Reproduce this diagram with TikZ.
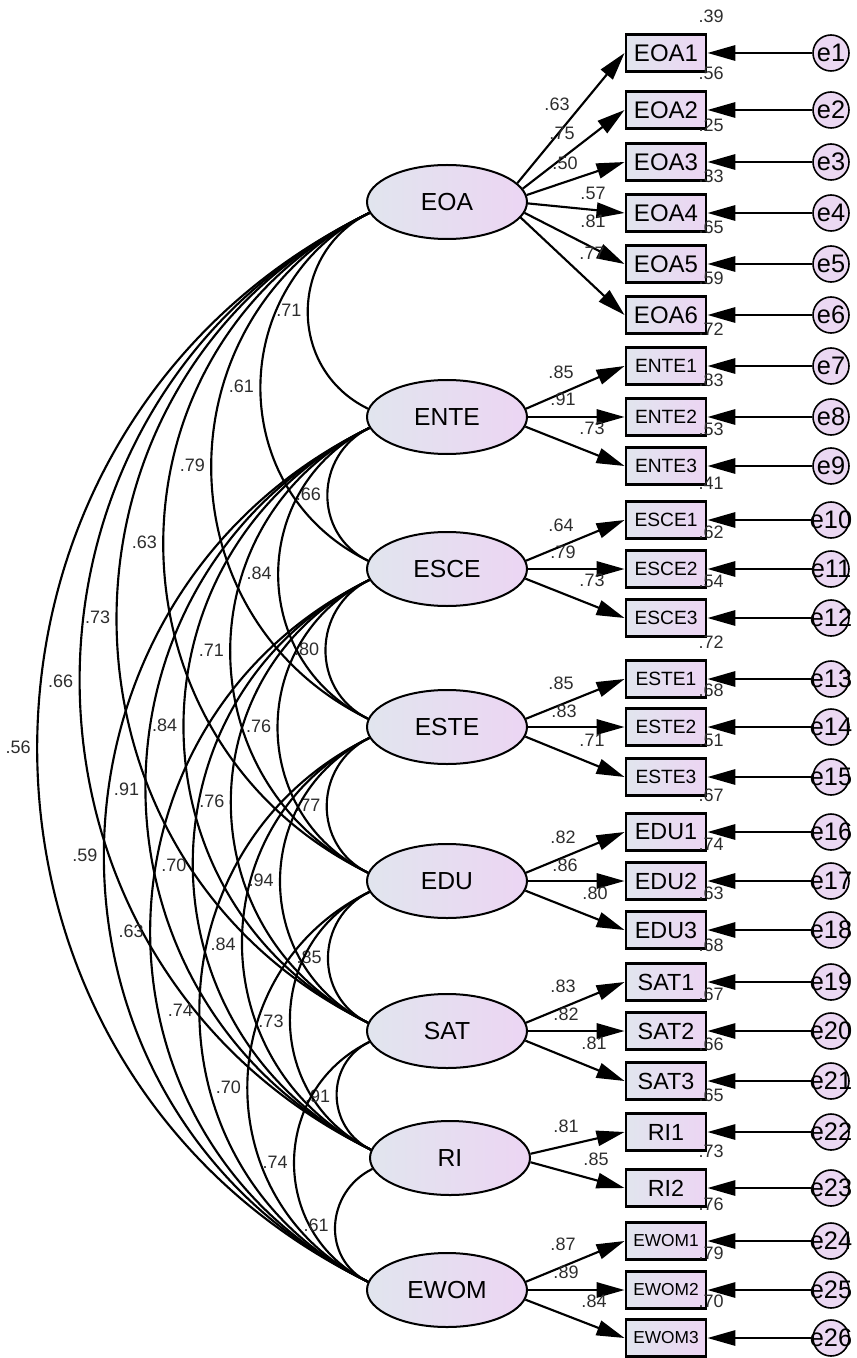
\documentclass[tikz,border=0pt]{standalone}
\usepackage{fontspec}
\setmainfont{Liberation Sans}
\usetikzlibrary{shapes.geometric,arrows.meta}
\definecolor{fillL}{RGB}{225,229,238}
\definecolor{fillR}{RGB}{236,213,243}
\definecolor{errfill}{RGB}{235,216,242}
\definecolor{numgray}{RGB}{45,45,45}

\begin{document}
\begin{tikzpicture}[x=0.75pt, y=-0.75pt, >={Triangle[length=21pt,width=11.5pt]},
  lat/.style={draw, ellipse, line width=1.5pt, left color=fillL, right color=fillR,
    minimum width=120pt, minimum height=55.5pt, inner sep=0pt,
    font=\fontsize{18.5}{20}\selectfont},
  ind/.style={draw, rectangle, line width=2.2pt, left color=fillL, right color=fillR,
    minimum width=60pt, minimum height=27.75pt, inner sep=0pt},
  err/.style={draw, circle, line width=1.2pt, fill=errfill, minimum size=27pt,
    inner sep=0pt, font=\fontsize{19}{20}\selectfont},
  load/.style={->, line width=1.6pt},
  cov/.style={line width=1.6pt},
  coef/.style={font=\fontsize{13.5}{14}\selectfont, text=numgray, inner sep=0pt}]
  \useasboundingbox (0,0) rectangle (856,1358);

  \node[lat] (EOA)  at (447,202)  {EOA};
  \node[lat] (ENTE) at (447,417)  {ENTE};
  \node[lat] (ESCE) at (447,569)  {ESCE};
  \node[lat] (ESTE) at (447,727)  {ESTE};
  \node[lat] (EDU)  at (447,881)  {EDU};
  \node[lat] (SAT)  at (447,1031) {SAT};
  \node[lat] (RI)   at (450,1158) {RI};
  \node[lat] (EWOM) at (447,1290) {EWOM};

  \foreach \n/\y/\r/\fs [count=\i] in {EOA1/53/.39/18, EOA2/110/.56/18,
      EOA3/162/.25/18, EOA4/213/.33/18, EOA5/264/.65/18, EOA6/315/.59/18,
      ENTE1/366/.72/14.4, ENTE2/417/.83/14.4, ENTE3/466/.53/14.4,
      ESCE1/520/.41/14.4, ESCE2/569/.62/14.4, ESCE3/618/.54/14.4,
      ESTE1/679/.72/14.4, ESTE2/727/.68/14.4, ESTE3/777/.51/14.4,
      EDU1/832/.67/17.5, EDU2/881/.74/17.5, EDU3/930/.63/17.5,
      SAT1/982/.68/17.5, SAT2/1031/.67/17.5, SAT3/1081/.66/17.5,
      RI1/1132/.65/17.5, RI2/1188/.73/17.5,
      EWOM1/1241/.76/13, EWOM2/1290/.79/13, EWOM3/1338/.70/13} {
    \node[ind, font=\fontsize{\fs}{\fs}\selectfont] (\n) at (666,\y) {\n};
    \node[err] (e\i) at (831,\y) {\makebox[0pt]{e\i}};
    \draw[load] (e\i) -- (\n);
    \node[coef] (r\i) at (711,\y-37) {\r};
  }

  \foreach \f/\a/\t/\lx/\ly/\v [count=\k] in {EOA/15/EOA1/557/104/.63,
      EOA/10/EOA2/562/133/.75, EOA/5/EOA3/565/163/.50, EOA/359/EOA4/593/193/.57,
      EOA/352/EOA5/593/221/.81, EOA/348/EOA6/592/253/.77,
      ENTE/6/ENTE1/561/372/.85, ENTE/0/ENTE2/563/399/.91, ENTE/353/ENTE3/592/428/.73,
      ESCE/6/ESCE1/561/525/.64, ESCE/0/ESCE2/563/552/.79, ESCE/353/ESCE3/592/580/.73,
      ESTE/6/ESTE1/561/683/.85, ESTE/0/ESTE2/564/711/.83, ESTE/353/ESTE3/592/740/.71,
      EDU/6/EDU1/563/837/.82, EDU/0/EDU2/565/865/.86, EDU/353/EDU3/595/893/.80,
      SAT/6/SAT1/563/986/.83, SAT/0/SAT2/566/1014/.82, SAT/353/SAT3/594/1043/.81,
      RI/3/RI1/566/1126/.81, RI/357/RI2/596/1159/.85,
      EWOM/6/EWOM1/563/1244/.87, EWOM/0/EWOM2/566/1272/.89,
      EWOM/353/EWOM3/594/1301/.84} {
    \draw[load] (\f.\a) -- (\t.west);
    \node[coef] (l\k) at (\lx,\ly) {\v};
  }

  \foreach \p/\q/\v [count=\c] in {EOA/ENTE/.71, EOA/ESCE/.61, EOA/ESTE/.79,
      EOA/EDU/.63, EOA/SAT/.73, EOA/RI/.66, EOA/EWOM/.56,
      ENTE/ESCE/.66, ENTE/ESTE/.84, ENTE/EDU/.71, ENTE/SAT/.84, ENTE/RI/.91,
      ENTE/EWOM/.59, ESCE/ESTE/.80, ESCE/EDU/.76, ESCE/SAT/.76, ESCE/RI/.70,
      ESCE/EWOM/.63, ESTE/EDU/.77, ESTE/SAT/.94, ESTE/RI/.84, ESTE/EWOM/.74,
      EDU/SAT/.85, EDU/RI/.73, EDU/EWOM/.70, SAT/RI/.91, SAT/EWOM/.74,
      RI/EWOM/.61}
    \draw[cov] (\p.188) to[out=206, in=154, looseness=1.18]
      node[coef, anchor=east, xshift=-4pt] (c\c) {\v} (\q.174);
\end{tikzpicture}
\end{document}
